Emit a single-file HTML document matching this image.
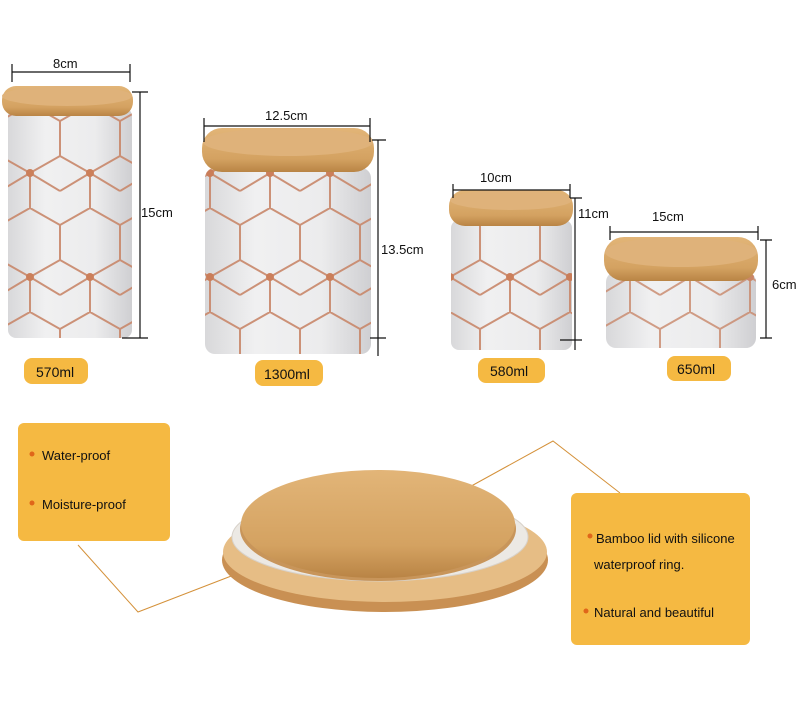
<!DOCTYPE html>
<html><head><meta charset="utf-8"><style>
body{margin:0;background:#fff}
svg{display:block}
text{font-family:"Liberation Sans",sans-serif;fill:#111}
</style></head><body>
<svg width="800" height="708" viewBox="0 0 800 708" xmlns="http://www.w3.org/2000/svg">
<defs>
<linearGradient id="wood" x1="0" y1="0" x2="0" y2="1">
<stop offset="0" stop-color="#e2b578"/><stop offset="0.7" stop-color="#d4a261"/><stop offset="1" stop-color="#b98445"/>
</linearGradient>
<linearGradient id="body" x1="0" y1="0" x2="1" y2="0">
<stop offset="0" stop-color="#d8d8da"/><stop offset="0.3" stop-color="#f0f0f1"/><stop offset="0.7" stop-color="#ececed"/><stop offset="1" stop-color="#cfcfd2"/>
</linearGradient>
<pattern id="hex" width="60" height="104" patternUnits="userSpaceOnUse">
<g stroke="#c8876a" stroke-width="2" fill="none">
<path d="M0 17 L30 0 L60 17 M30 0 V-10 M0 17 V52 M60 17 V52 M0 52 L30 69 L60 52 M30 69 V104 M0 87 L30 69 M60 87 L30 69"/>
</g>
<circle cx="30" cy="69" r="4" fill="#c8734a"/>
</pattern>
</defs>

<!-- Jar1 -->
<rect x="8" y="108" width="124" height="230" rx="8" fill="url(#body)"/>
<rect x="8" y="108" width="124" height="230" rx="8" fill="url(#hex)" opacity="0.9"/>
<rect x="2" y="86" width="131" height="30" rx="14" fill="url(#wood)"/>
<ellipse cx="67" cy="96" rx="65" ry="10" fill="#dfb27a"/>
<!-- Jar2 -->
<rect x="205" y="168" width="166" height="186" rx="10" fill="url(#body)"/>
<rect x="205" y="168" width="166" height="186" rx="10" fill="url(#hex)" opacity="0.9"/>
<rect x="202" y="128" width="172" height="44" rx="20" fill="url(#wood)"/>
<ellipse cx="288" cy="142" rx="85" ry="14" fill="#dfb27a"/>
<!-- Jar3 -->
<rect x="451" y="220" width="121" height="130" rx="8" fill="url(#body)"/>
<rect x="451" y="220" width="121" height="130" rx="8" fill="url(#hex)" opacity="0.9"/>
<rect x="449" y="190" width="124" height="36" rx="16" fill="url(#wood)"/>
<ellipse cx="511" cy="200" rx="61" ry="10" fill="#dfb27a"/>
<!-- Jar4 -->
<rect x="606" y="272" width="150" height="76" rx="10" fill="url(#body)"/>
<rect x="606" y="272" width="150" height="76" rx="10" fill="url(#hex)" opacity="0.8"/>
<rect x="604" y="237" width="154" height="44" rx="20" fill="url(#wood)"/>
<ellipse cx="681" cy="252" rx="76" ry="15" fill="#dfb27a"/>

<!-- dimension lines -->
<g stroke="#111" stroke-width="1.2" fill="none">
<path d="M12 72 H130 M12 64 V82 M130 64 V82"/>
<path d="M140 92 V338 M132 92 H148 M122 338 H148"/>
<path d="M204 118 V142 M370 118 V142 M204 126 H370"/>
<path d="M378 140 V356 M372 140 H386 M370 338 H386"/>
<path d="M453 190 H570 M453 184 V198 M570 184 V198"/>
<path d="M575 198 V350 M570 198 H582 M560 340 H582"/>
<path d="M610 232 H758 M610 226 V240 M758 226 V240"/>
<path d="M766 240 V338 M760 240 H772 M760 338 H772"/>
</g>
<g font-size="13">
<text x="53" y="68">8cm</text>
<text x="141" y="217">15cm</text>
<text x="265" y="120">12.5cm</text>
<text x="381" y="254">13.5cm</text>
<text x="480" y="182">10cm</text>
<text x="578" y="218">11cm</text>
<text x="652" y="221">15cm</text>
<text x="772" y="289">6cm</text>
</g>
<!-- ml labels -->
<g fill="#f5b942">
<rect x="24" y="358" width="64" height="26" rx="8"/>
<rect x="255" y="360" width="68" height="26" rx="8"/>
<rect x="478" y="358" width="67" height="25" rx="8"/>
<rect x="667" y="356" width="64" height="25" rx="8"/>
</g>
<g font-size="14">
<text x="36" y="377">570ml</text>
<text x="264" y="379">1300ml</text>
<text x="490" y="376">580ml</text>
<text x="677" y="374">650ml</text>
</g>

<!-- connectors -->
<g stroke="#d4913a" stroke-width="1" fill="none">
<path d="M78 545 L138 612 L252 568"/>
<path d="M455 495 L553 441 L620 493"/>
</g>

<!-- lid -->
<ellipse cx="385" cy="560" rx="163" ry="52" fill="#c99053"/>
<ellipse cx="385" cy="552" rx="162" ry="50" fill="#e6bd85"/>
<ellipse cx="380" cy="537" rx="148" ry="44" fill="#ece9e4" stroke="#d8d2ca"/>
<ellipse cx="378" cy="529" rx="138" ry="52" fill="#c8955a"/>
<ellipse cx="378" cy="524" rx="137" ry="54" fill="url(#wood)"/>

<!-- info boxes -->
<rect x="18" y="423" width="152" height="118" rx="6" fill="#f5b942"/>
<circle cx="32" cy="454" r="2.5" fill="#e0661a"/>
<circle cx="32" cy="503" r="2.5" fill="#e0661a"/>
<text x="42" y="460" font-size="13">Water-proof</text>
<text x="42" y="509" font-size="13">Moisture-proof</text>

<rect x="571" y="493" width="179" height="152" rx="6" fill="#f5b942"/>
<circle cx="590" cy="536" r="2.5" fill="#e0661a"/>
<circle cx="586" cy="611" r="2.5" fill="#e0661a"/>
<text x="596" y="543" font-size="13">Bamboo lid with silicone</text>
<text x="594" y="569" font-size="13">waterproof ring.</text>
<text x="594" y="617" font-size="13">Natural and beautiful</text>
</svg>
</body></html>
